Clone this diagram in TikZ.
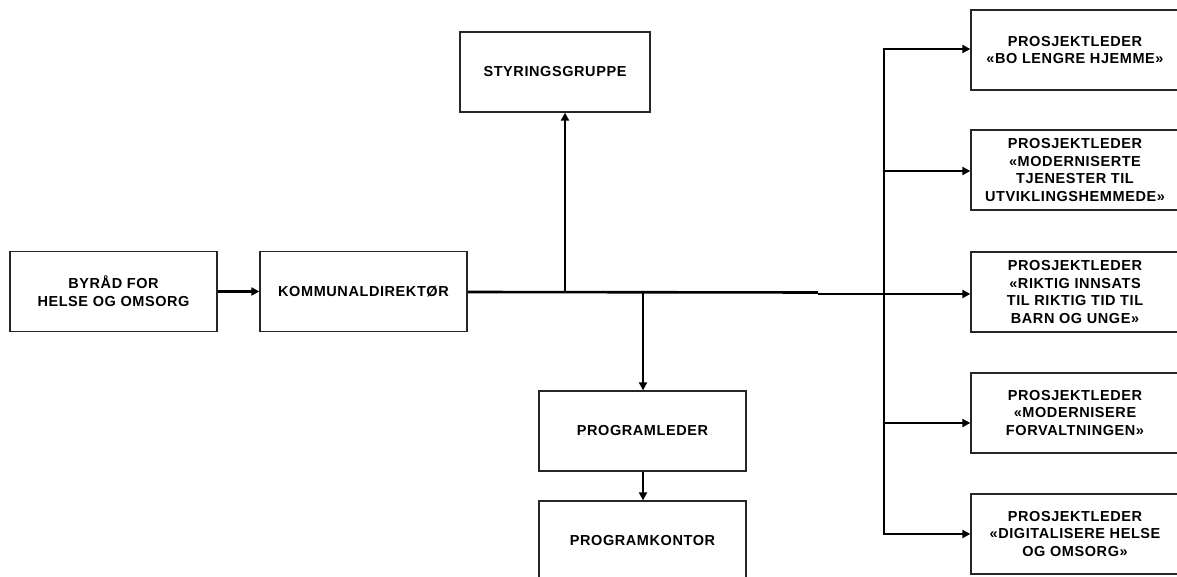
\documentclass[tikz,border=0pt]{standalone}
\usepackage{fontspec}
\setmainfont{Liberation Sans}[LetterSpace=4]
\usetikzlibrary{arrows.meta}
\tikzset{
  box/.style={draw=black!85, line width=1.3pt, minimum width=207pt, minimum height=80pt,
    align=center, inner sep=0pt, font=\bfseries\fontsize{14.5}{17.8}\selectfont},
  link/.style={line width=2.6pt, -{Triangle[length=8pt,width=8pt]}},
  bar/.style={line width=2.6pt},
}
\begin{document}
\begin{tikzpicture}[x=1pt,y=-1pt]
\clip (0,0) rectangle (1177,577);
\fill[white] (0,0) rectangle (1177,577);

% left chain
\node[box] (byrad) at (113.5,291.5) {BYRÅD FOR\\HELSE OG OMSORG};
\node[box] (kd) at (363.5,291.5) {KOMMUNALDIREKTØR};
\node[box, minimum width=190pt] (styr) at (555,72) {STYRINGSGRUPPE};
\node[box] (pl) at (642.5,431) {PROGRAMLEDER};
\node[box] (pk) at (642.5,541) {PROGRAMKONTOR};

% project leaders
\node[box, minimum width=208pt] (p1) at (1075,50) {PROSJEKTLEDER\\«BO LENGRE HJEMME»};
\node[box, minimum width=208pt] (p2) at (1075,170) {PROSJEKTLEDER\\«MODERNISERTE\\TJENESTER TIL\\UTVIKLINGSHEMMEDE»};
\node[box, minimum width=208pt] (p3) at (1075,292) {PROSJEKTLEDER\\«RIKTIG INNSATS\\TIL RIKTIG TID TIL\\BARN OG UNGE»};
\node[box, minimum width=208pt] (p4) at (1075,413) {PROSJEKTLEDER\\«MODERNISERE\\FORVALTNINGEN»};
\node[box, minimum width=208pt] (p5) at (1075,534) {PROSJEKTLEDER\\«DIGITALISERE HELSE\\OG OMSORG»};

% junction points on the main line
\coordinate (jS) at (565,292);
\coordinate (jP) at (643,292.5);
\coordinate (jM) at (818,292.5);
\coordinate (busTop) at (884,49);
\coordinate (busBot) at (884,534);

\draw[link] (byrad.east) -- (kd.west);
\draw[bar] (kd.east |- 0,292) -- (jM);
\draw[bar] (jM |- 0,294) -- (884,294);
\draw[link] (884,294) -- (p3.west |- 0,294);
\draw[link] (jS) -- (jS |- styr.south);
\draw[link] (jP) -- (jP |- pl.north);
\draw[link] (pl.south -| jP) -- (pk.north -| jP);

% vertical bus to the project leaders
\draw[bar, line cap=rect] (busTop) -- (busBot);
\draw[link] (busTop) -- (p1.west |- busTop);
\draw[link] (884,171) -- (p2.west |- 0,171);
\draw[link] (884,423) -- (p4.west |- 0,423);
\draw[link] (busBot) -- (p5.west |- busBot);
\end{tikzpicture}
\end{document}
